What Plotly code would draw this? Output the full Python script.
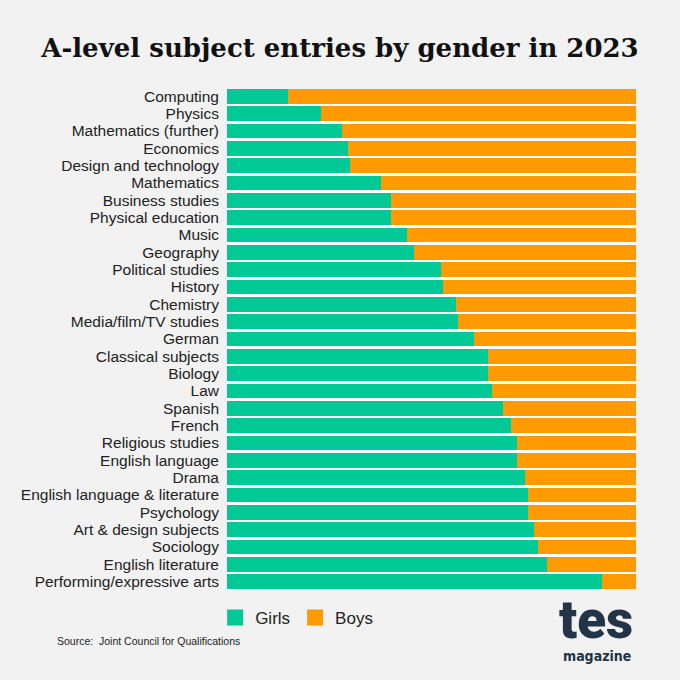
import plotly.graph_objects as go

subjects = ["Computing", "Physics", "Mathematics (further)", "Economics", "Design and technology",
            "Mathematics", "Business studies", "Physical education", "Music", "Geography",
            "Political studies", "History", "Chemistry", "Media/film/TV studies", "German",
            "Classical subjects", "Biology", "Law", "Spanish", "French", "Religious studies",
            "English language", "Drama", "English language & literature", "Psychology",
            "Art & design subjects", "Sociology", "English literature", "Performing/expressive arts"]
girls = [15.0, 23.0, 28.2, 29.7, 30.1, 37.7, 40.0, 40.1, 44.1, 45.8, 52.2, 52.9, 56.1, 56.4, 60.5,
         63.7, 63.8, 64.7, 67.6, 69.4, 70.8, 70.8, 72.8, 73.5, 73.5, 75.0, 76.0, 78.2, 91.7]
boys = [round(100 - g, 1) for g in girls]

GREEN = "#00c995"
ORANGE = "#ff9a00"
BG = "#f2f2f2"
GAP = 0.15

fig = go.Figure()
fig.add_trace(go.Bar(y=subjects, x=girls, name="Girls", orientation="h", showlegend=False,
                     marker=dict(color=GREEN, line=dict(width=0))))
fig.add_trace(go.Bar(y=subjects, x=boys, name="Boys", orientation="h", showlegend=False,
                     marker=dict(color=ORANGE, line=dict(width=0))))
# legend entries with larger square swatches
fig.add_trace(go.Scatter(x=[None], y=[None], mode="markers", name="Girls",
                         marker=dict(symbol="square", size=16, color=GREEN)))
fig.add_trace(go.Scatter(x=[None], y=[None], mode="markers", name="Boys",
                         marker=dict(symbol="square", size=16, color=ORANGE)))

n = len(subjects)
half = (1 - GAP) / 2
fig.update_layout(
    width=680, height=680,
    barmode="stack", bargap=GAP,
    paper_bgcolor=BG, plot_bgcolor="white",
    margin=dict(l=227, r=44, t=89, b=91),
    font=dict(family="Liberation Sans, Arial, sans-serif", color="#222222"),
    title=dict(text="<b>A-level subject entries by gender in 2023</b>", x=0.5, xanchor="center",
               y=0.93, yanchor="middle",
               font=dict(family="DejaVu Serif, Liberation Serif, serif", size=26, color="#111111")),
    xaxis=dict(range=[0, 100], visible=False, fixedrange=True),
    yaxis=dict(type="category", range=[n - 1 + half, -half], tickmode="array",
               tickvals=subjects, ticktext=subjects,
               tickfont=dict(size=15.5, color="#222222"), fixedrange=True,
               ticks="", showgrid=False, zeroline=False, ticklabelstandoff=7),
    legend=dict(orientation="h", x=-0.029, xanchor="left", y=-0.022, yanchor="top",
                font=dict(size=17, color="#222222"), bgcolor="rgba(0,0,0,0)",
                itemsizing="trace", traceorder="normal"),
    showlegend=True,
)

fig.add_annotation(text="Source:  Joint Council for Qualifications", xref="paper", yref="paper",
                   x=-172/409, y=-52/500, xanchor="left", yanchor="middle", showarrow=False,
                   font=dict(size=10.5, color="#222222"))
fig.add_annotation(text="tes", xref="paper", yref="paper", x=0.997, y=-0.062,
                   xanchor="right", yanchor="middle", showarrow=False,
                   font=dict(family="Roboto, DejaVu Sans, sans-serif", size=53, weight=900,
                             color="#243447"))
fig.add_annotation(text="<b>magazine</b>", xref="paper", yref="paper", x=0.993, y=-0.133,
                   xanchor="right", yanchor="middle", showarrow=False,
                   font=dict(family="DejaVu Sans Condensed, DejaVu Sans, sans-serif", size=14,
                             color="#243447"))

fig.write_html("out.html", config={"displayModeBar": False})
with open("out.html", encoding="utf-8") as f:
    html = f.read()
html = html.replace("<head>", "<head><style>html,body{margin:0;padding:0;background:%s;}</style>" % BG, 1)
with open("out.html", "w", encoding="utf-8") as f:
    f.write(html)
